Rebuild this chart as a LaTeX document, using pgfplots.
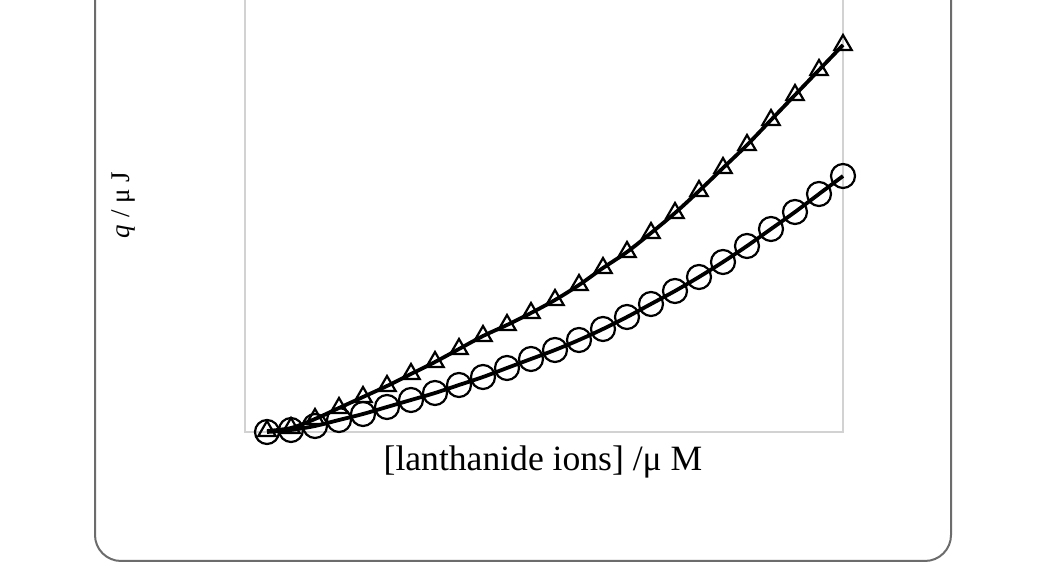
\documentclass[border=0pt]{standalone}
\usepackage{pgfplots}
\pgfplotsset{compat=1.18}
\usepackage{fontspec}
\setmainfont{Liberation Serif}
\pgfplotstableread{
i c t
0 0 1
1 2 4
2 6 13
3 12 24
4 18 35
5 25 46
6 32 58
7 39 70
8 47 83
9 55 96
10 64 107
11 73 119
12 82 132
13 92 147
14 103 164
15 115 180
16 128 199
17 141 219
18 155 241
19 170 264
20 186 287
21 203 312
22 220 337
23 238 362
24 256 387
}\data
\begin{document}
\begin{tikzpicture}[x=0.5pt,y=0.5pt]
\path[use as bounding box, fill=white] (0,0) rectangle (1038,576);
\clip (0,0) rectangle (1038,576);
\draw[draw=gray!85!black, line width=1pt, rounded corners=13pt] (95,15) rectangle (951,620);
\begin{axis}[
  at={(245pt*0.5,144pt*0.5)}, anchor=south west,
  scale only axis, width=299pt, height=226pt,
  xmin=-0.9167, xmax=24, ymin=0, ymax=452,
  xtick=\empty, ytick=\empty,
  axis line style={draw=gray!35, line width=0.8pt},
  clip=false,
]
\addplot[black, line width=1.9pt, smooth, no marks] table[x=i,y=c]{\data};
\addplot[black, line width=1.9pt, smooth, no marks] table[x=i,y=t]{\data};
\addplot[black, only marks, mark=o, mark size=6pt, mark options={line width=1.1pt}] table[x=i,y=c]{\data};
\addplot[black, only marks, mark=triangle, mark size=5pt, mark options={line width=1.1pt}] table[x=i,y=t]{\data};
\end{axis}
\node[font=\fontsize{17.8}{20}\selectfont] at (543,114) {[lanthanide ions] /μ M};
\node[font=\fontsize{13.5}{15}\selectfont, rotate=90] at (123,371) {\textit{q} / μ J};
\end{tikzpicture}
\end{document}
